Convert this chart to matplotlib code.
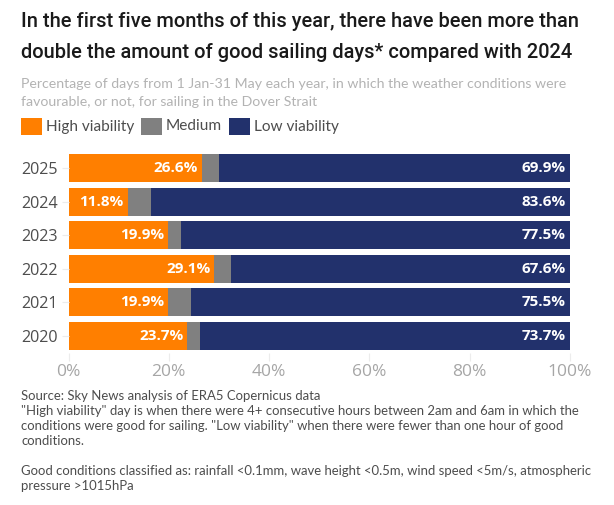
"""
Stacked bars of sailing viability in the Dover Strait, 1 Jan-31 May, 2020-2025.
"""
import matplotlib
matplotlib.use("Agg")
import matplotlib.pyplot as plt
import matplotlib.patches as mpatches

years = ["2020", "2021", "2022", "2023", "2024", "2025"]
high = [23.7, 19.9, 29.1, 19.9, 11.8, 26.6]
medium = [2.6, 4.6, 3.3, 2.6, 4.6, 3.5]
low = [73.7, 75.5, 67.6, 77.5, 83.6, 69.9]
x_ticks = [0, 20, 40, 60, 80, 100]
x_tick_labels = ["0%", "20%", "40%", "60%", "80%", "100%"]

series_names = ["High viability", "Medium", "Low viability"]
series_colors = ["#ff7f00", "#808080", "#22316c"]

title_lines = [
    "In the first five months of this year, there have been more than",
    "double the amount of good sailing days* compared with 2024",
]
subtitle_lines = [
    "Percentage of days from 1 Jan-31 May each year, in which the weather conditions were",
    "favourable, or not, for sailing in the Dover Strait",
]
footer_lines = [
    "Source: Sky News analysis of ERA5 Copernicus data",
    "\"High viability\" day is when there were 4+ consecutive hours between 2am and 6am in which the",
    "conditions were good for sailing. \"Low viability\" when there were fewer than one hour of good",
    "conditions.",
    "",
    "Good conditions classified as: rainfall <0.1mm, wave height <0.5m, wind speed <5m/s, atmospheric",
    "pressure >1015hPa",
]

W, H = 614, 505
plt.rcParams["font.family"] = ["Lato", "DejaVu Sans"]
OPEN = ["Open Sans", "DejaVu Sans"]
ROBOTO = ["Roboto", "DejaVu Sans"]

fig = plt.figure(figsize=(W / 100, H / 100), dpi=100)
fig.patch.set_facecolor("white")


# Helper: place figure text using pixel coordinates from the top left
def put_text(px, py, s, **kw):
    fig.text(px / W, 1 - py / H, s, va="center", **kw)


# axes box in pixels
left, right, top, bottom = 68.5, 570, 151.2, 352.8
ax = fig.add_axes([left / W, 1 - bottom / H, (right - left) / W, (bottom - top) / H])

y_pos = list(range(len(years)))
bar_h = 0.83
lefts = [0] * len(years)
for vals, color in zip([high, medium, low], series_colors):
    ax.barh(y_pos, vals, left=lefts, height=bar_h, color=color, linewidth=0)
    lefts = [a + b for a, b in zip(lefts, vals)]

# value labels
for i in y_pos:
    ax.text(high[i] - 0.8, i, f"{high[i]}%", ha="right", va="center", color="white",
            fontsize=11, fontweight="bold", family=OPEN)
    ax.text(99.2, i, f"{low[i]}%", ha="right", va="center", color="white",
            fontsize=11, fontweight="bold", family=OPEN)

ax.set_xlim(0, 100)
ax.set_ylim(-0.5, 5.5)
ax.set_yticks(y_pos)
ax.set_yticklabels(years, fontsize=11.6, color="#4d4d4d", family=OPEN)
ax.set_xticks(x_ticks)
ax.set_xticklabels(x_tick_labels, fontsize=12.5, color="#a6a6a6", family=OPEN)
ax.tick_params(axis="y", length=5, color="#ececec", pad=2.5)
ax.tick_params(axis="x", length=6, color="#ececec", pad=2)
for side in ax.spines:
    ax.spines[side].set_visible(False)

# headline block
put_text(21, 21.5, title_lines[0], fontsize=14.4, fontweight="medium", color="#1a1a1a", family=ROBOTO)
put_text(21, 53, title_lines[1], fontsize=14.4, fontweight="medium", color="#1a1a1a", family=ROBOTO)
put_text(21, 84.5, subtitle_lines[0], fontsize=10.15, color="#b3b3b3")
put_text(21, 101.5, subtitle_lines[1], fontsize=10.15, color="#b3b3b3")

# hand-placed legend
legend_x = [21, 141, 229]
for px, name, color in zip(legend_x, series_names, series_colors):
    fig.add_artist(mpatches.Rectangle((px / W, 1 - 135 / H), 21 / W, 17 / H,
                                      transform=fig.transFigure, color=color, linewidth=0))
    put_text(px + 25, 126.5, name, fontsize=11.1, color="#4d4d4d")

# footer notes
footer_y = [396, 411, 426, 441, 456, 471, 486]
for py, line in zip(footer_y, footer_lines):
    if line:
        put_text(21, py, line, fontsize=9.45, color="#4d4d4d")

fig.savefig("out.png", dpi=100)
plt.close(fig)
